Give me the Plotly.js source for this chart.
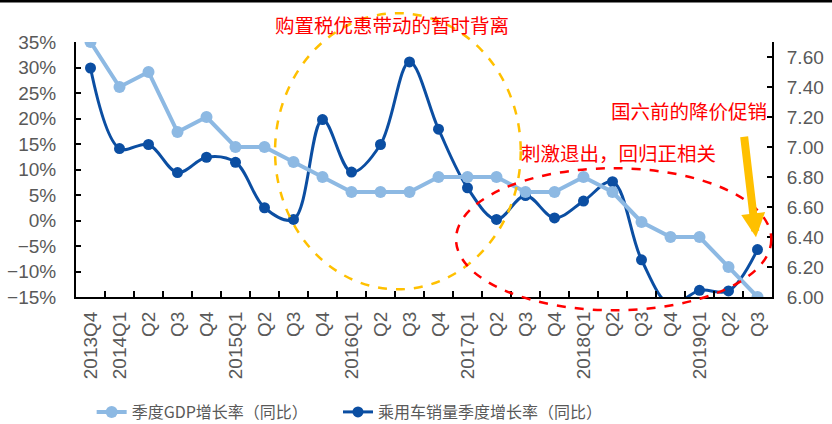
<!DOCTYPE html>
<html>
<head>
<meta charset="utf-8">
<script src="https://cdn.plot.ly/plotly-3.0.1.min.js"></script>
<style>
  html, body { margin: 0; padding: 0; background: #ffffff; }
  #chart { width: 832px; height: 424px; }
</style>
</head>
<body>
<div id="chart"></div>
<script>
// Quarter ids (unique category keys) and the labels shown under the axis
const quarters = [
  "2013Q4", "2014Q1", "2014Q2", "2014Q3", "2014Q4",
  "2015Q1", "2015Q2", "2015Q3", "2015Q4",
  "2016Q1", "2016Q2", "2016Q3", "2016Q4",
  "2017Q1", "2017Q2", "2017Q3", "2017Q4",
  "2018Q1", "2018Q2", "2018Q3", "2018Q4",
  "2019Q1", "2019Q2", "2019Q3"
];
const quarterLabels = [
  "2013Q4", "2014Q1", "Q2", "Q3", "Q4",
  "2015Q1", "Q2", "Q3", "Q4",
  "2016Q1", "Q2", "Q3", "Q4",
  "2017Q1", "Q2", "Q3", "Q4",
  "2018Q1", "Q2", "Q3", "Q4",
  "2019Q1", "Q2", "Q3"
];

// Quarterly GDP growth, % (right axis)
const gdpGrowth = [
  7.7, 7.4, 7.5, 7.1, 7.2,
  7.0, 7.0, 6.9, 6.8,
  6.7, 6.7, 6.7, 6.8,
  6.8, 6.8, 6.7, 6.7,
  6.8, 6.7, 6.5, 6.4,
  6.4, 6.2, 6.0
];

// Passenger-car sales, quarterly YoY growth, % (left axis)
const carSalesGrowth = [
  29.9, 14.1, 14.9, 9.4, 12.4,
  11.4, 2.5, 0.2, 19.8,
  9.5, 14.9, 31.1, 17.9,
  6.4, 0.2, 4.9, 0.5,
  3.8, 7.6, -7.7, -16.5,
  -13.7, -13.8, -5.7
];

const seriesNames = ["季度GDP增长率（同比）", "乘用车销量季度增长率（同比）"];

const noteTexts = [
  "购置税优惠带动的暂时背离",
  "国六前的降价促销",
  "刺激退出，回归正相关"
];

const GREY = "#595959";
const LIGHT = "#8DB9E3";
const DARK = "#0B4EA2";
const RED = "#FF0000";
const GOLD = "#FFC000";
const tickFont = { family: "Liberation Sans, Arial, sans-serif", size: 19, color: GREY };
const cjk = "Noto Sans CJK SC, sans-serif";
const legendFont = { family: cjk, size: 16, color: GREY };
const noteFont = { family: cjk, size: 19.5, color: RED };

const traces = [
  {
    name: seriesNames[0],
    legend: "legend",
    x: quarters,
    y: gdpGrowth,
    yaxis: "y2",
    type: "scatter",
    mode: "lines+markers",
    line: { color: LIGHT, width: 4 },
    marker: { color: LIGHT, size: 12 }
  },
  {
    name: seriesNames[1],
    legend: "legend2",
    x: quarters,
    y: carSalesGrowth,
    yaxis: "y",
    type: "scatter",
    mode: "lines+markers",
    line: { color: DARK, width: 3, shape: "spline", smoothing: 1 },
    marker: { color: DARK, size: 11 }
  }
];

const layout = {
  width: 832,
  height: 424,
  margin: { l: 76, r: 60, t: 42, b: 127, pad: 0, autoexpand: false },
  paper_bgcolor: "#ffffff",
  plot_bgcolor: "#ffffff",
  showlegend: true,
  legend: {
    orientation: "h",
    x: 0.0225, xanchor: "left",
    y: -0.451, yanchor: "middle",
    font: legendFont
  },
  legend2: {
    orientation: "h",
    x: 0.3764, xanchor: "left",
    y: -0.451, yanchor: "middle",
    font: legendFont
  },
  xaxis: {
    type: "category",
    categoryorder: "array",
    categoryarray: quarters,
    range: [-0.5, quarters.length - 0.5],
    tickvals: quarters,
    ticktext: quarterLabels,
    tickangle: -90,
    tickson: "boundaries",
    ticks: "inside",
    ticklen: 6,
    tickwidth: 2,
    tickcolor: "#000",
    showline: true,
    linecolor: "#000",
    linewidth: 2,
    showgrid: false,
    zeroline: false,
    automargin: false,
    tickfont: tickFont,
    ticklabelstandoff: 5,
    fixedrange: true
  },
  yaxis: {
    range: [-15, 35],
    tick0: -15,
    dtick: 5,
    ticksuffix: "%",
    ticks: "inside",
    ticklen: 5,
    tickwidth: 2,
    tickcolor: "#000",
    showline: true,
    linecolor: "#000",
    linewidth: 2,
    showgrid: false,
    zeroline: false,
    automargin: false,
    tickfont: tickFont,
    ticklabelstandoff: 14,
    fixedrange: true
  },
  yaxis2: {
    overlaying: "y",
    side: "right",
    range: [6.0, 7.7],
    tick0: 6.0,
    dtick: 0.2,
    tickformat: ".2f",
    ticks: "inside",
    ticklen: 5,
    tickwidth: 2,
    tickcolor: "#000",
    showline: true,
    linecolor: "#000",
    linewidth: 2,
    showgrid: false,
    zeroline: false,
    automargin: false,
    tickfont: tickFont,
    ticklabelstandoff: 9,
    fixedrange: true
  },
  shapes: [
    // thin dark rule along the top edge of the figure
    {
      type: "line", xref: "paper", yref: "paper", layer: "above",
      x0: -0.11, x1: 1.09, y0: 1.161, y1: 1.161,
      line: { color: "#000", width: 3 }
    },
    {
      type: "circle", xref: "paper", yref: "paper", layer: "above",
      x0: 0.286, x1: 0.639, y0: 0.030, y1: 1.113,
      line: { color: GOLD, width: 2.5, dash: "dash" }
    },
    {
      type: "circle", xref: "paper", yref: "paper", layer: "above",
      x0: 0.546, x1: 0.999, y0: -0.052, y1: 0.505,
      line: { color: RED, width: 2.5, dash: "dash" }
    }
  ],
  annotations: [
    {
      text: noteTexts[0], xref: "paper", yref: "paper",
      x: 0.454, y: 1.069, xanchor: "center", yanchor: "middle",
      showarrow: false, font: noteFont
    },
    {
      text: noteTexts[1], xref: "paper", yref: "paper",
      x: 0.881, y: 0.732, xanchor: "center", yanchor: "middle",
      showarrow: false, font: noteFont
    },
    {
      text: noteTexts[2], xref: "paper", yref: "paper",
      x: 0.779, y: 0.567, xanchor: "center", yanchor: "middle",
      showarrow: false, font: noteFont
    },
    {
      text: "", xref: "paper", yref: "paper",
      x: 0.977, y: 0.234,
      ax: -12, ay: -102,
      showarrow: true,
      arrowhead: 2, arrowsize: 0.6, arrowwidth: 8,
      arrowcolor: GOLD
    }
  ]
};

Plotly.newPlot("chart", traces, layout, { displayModeBar: false, staticPlot: true });
</script>
</body>
</html>
